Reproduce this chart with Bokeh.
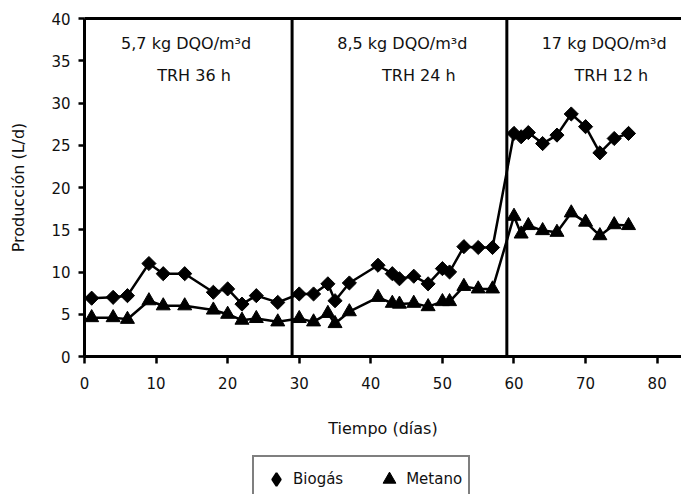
import numpy as np
from bokeh.plotting import figure
from bokeh.layouts import column
from bokeh.models import (ColumnDataSource, Span, Label, Legend, LegendItem,
                          LinearAxis, FixedTicker, Range1d)
from bokeh.embed import file_html
from bokeh.resources import INLINE

# ---- data ----
dias = [1, 4, 6, 9, 11, 14, 18, 20, 22, 24, 27, 30, 32, 34, 35, 37, 41, 43, 44,
        46, 48, 50, 51, 53, 55, 57, 60, 61, 62, 64, 66, 68, 70, 72, 74, 76]
biogas = [6.9, 7.0, 7.2, 11.0, 9.8, 9.8, 7.6, 8.0, 6.2, 7.2, 6.4, 7.4, 7.4, 8.6,
          6.6, 8.7, 10.8, 9.8, 9.2, 9.5, 8.6, 10.4, 10.0, 13.0, 12.9, 12.9,
          26.4, 26.0, 26.5, 25.2, 26.2, 28.7, 27.2, 24.1, 25.8, 26.4]
metano = [4.6, 4.6, 4.4, 6.6, 6.0, 6.0, 5.5, 5.0, 4.3, 4.5, 4.1, 4.5, 4.1, 5.1,
          3.9, 5.3, 7.0, 6.3, 6.2, 6.3, 5.9, 6.5, 6.5, 8.3, 8.0, 8.0,
          16.6, 14.5, 15.5, 14.9, 14.7, 17.0, 15.9, 14.3, 15.6, 15.5]
cambios = [29, 59]
etapa_carga = ["5,7 kg DQO/m³d", "8,5 kg DQO/m³d", "17 kg DQO/m³d"]
etapa_trh = ["TRH 36 h", "TRH 24 h", "TRH 12 h"]
etapa_x1 = [14.2, 44.4, 72.6]
etapa_x2 = [15.3, 46.7, 73.6]
x_ticks = [0, 10, 20, 30, 40, 50, 60, 70, 80]
y_ticks = [0, 5, 10, 15, 20, 25, 30, 35, 40]
series_names = ["Biogás", "Metano"]

FONT = "DejaVu Sans"
TXT = "#111111"

src = ColumnDataSource(dict(x=dias, b=biogas, m=metano))

p = figure(width=681, height=440, output_backend="svg", toolbar_location=None,
           x_range=Range1d(0, 83.4), y_range=Range1d(0, 40),
           min_border_left=84, min_border_right=0, min_border_top=18,
           min_border_bottom=84)
p.outline_line_color = None
p.xgrid.visible = False
p.ygrid.visible = False
p.background_fill_color = "white"
p.border_fill_color = "white"

# lines + markers
p.line("x", "b", source=src, line_color="black", line_width=2.5)
p.scatter("x", "b", source=src, marker="square", angle=np.pi / 4, size=10,
          fill_color="black", line_color="black")
p.line("x", "m", source=src, line_color="black", line_width=2.5)
p.scatter("x", "m", source=src, marker="triangle", size=14,
          fill_color="black", line_color="black")

# phase separators
for c in cambios:
    p.add_layout(Span(location=c, dimension="height", line_color="black",
                      line_width=3))

# phase annotations
for t1, t2, x1, x2 in zip(etapa_carga, etapa_trh, etapa_x1, etapa_x2):
    p.add_layout(Label(x=x1, y=37.1, text=t1, text_align="center",
                       text_baseline="middle", text_font=FONT,
                       text_font_size="16px", text_color=TXT))
    p.add_layout(Label(x=x2, y=33.3, text=t2, text_align="center",
                       text_baseline="middle", text_font=FONT,
                       text_font_size="16px", text_color=TXT))

# axes
for ax in (p.xaxis[0], p.yaxis[0]):
    ax.axis_line_width = 3
    ax.axis_line_color = "black"
    ax.major_tick_line_width = 2.5
    ax.major_tick_line_color = "black"
    ax.major_tick_in = 0
    ax.minor_tick_line_color = None
    ax.major_label_text_font = FONT
    ax.major_label_text_font_size = "15px"
    ax.major_label_text_color = TXT
    ax.axis_label_text_font = FONT
    ax.axis_label_text_font_size = "16px"
    ax.axis_label_text_font_style = "normal"
    ax.axis_label_text_color = TXT

p.xaxis.ticker = FixedTicker(ticks=x_ticks)
p.yaxis.ticker = FixedTicker(ticks=y_ticks)
p.xaxis.major_tick_out = 7
p.yaxis.major_tick_out = 6
p.xaxis.major_label_standoff = 13
p.yaxis.major_label_standoff = 8
p.xaxis.axis_label = "Tiempo (días)"
p.yaxis.axis_label = "Producción (L/d)"
p.xaxis.axis_label_standoff = 27
p.yaxis.axis_label_standoff = 20

top = LinearAxis(ticker=FixedTicker(ticks=[]), axis_line_width=3,
                 axis_line_color="black", major_tick_out=0, major_tick_in=0,
                 minor_tick_out=0, minor_tick_in=0)
p.add_layout(top, "above")

# ---- legend strip (separate figure under the chart) ----
q = figure(width=681, height=54, output_backend="svg", toolbar_location=None,
           x_range=Range1d(0, 1), y_range=Range1d(0, 1),
           min_border_left=0, min_border_right=0, min_border_top=0,
           min_border_bottom=0)
q.axis.visible = False
q.grid.visible = False
q.outline_line_color = None
q.border_fill_color = "white"
# off-range proxies so that the legend can draw its glyphs
gb = q.scatter(x=[-10], y=[-10], marker="diamond", size=13,
               fill_color="black", line_color="black", line_width=2)
gm = q.scatter(x=[-10], y=[-10], marker="triangle", size=14,
               fill_color="black", line_color="black")
legend = Legend(items=[LegendItem(label=series_names[0], renderers=[gb]),
                       LegendItem(label=series_names[1], renderers=[gm])],
                orientation="horizontal", location=(168, -8.5), margin=0,
                padding=6, spacing=30, label_standoff=1,
                glyph_width=32, glyph_height=32, label_height=20,
                label_text_font=FONT, label_text_font_size="15px",
                label_text_color=TXT,
                border_line_color="black", border_line_width=2.5,
                background_fill_color="white", background_fill_alpha=1.0)
q.add_layout(legend, "center")

open("out.html", "w").write(file_html(column(p, q, spacing=0), INLINE))
